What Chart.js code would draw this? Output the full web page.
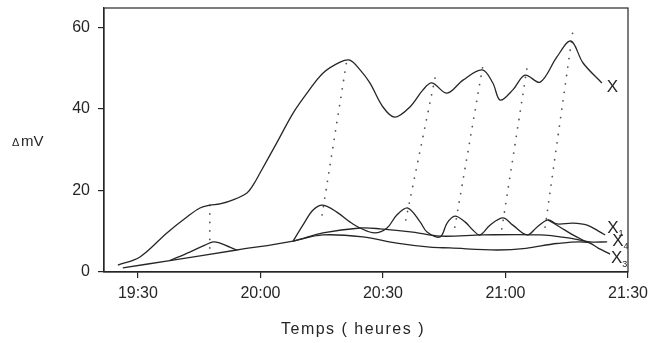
<!DOCTYPE html>
<html>
<head>
<meta charset="utf-8">
<script src="https://cdn.jsdelivr.net/npm/chart.js@4.4.0/dist/chart.umd.min.js"></script>
<style>
  body { margin: 0; background: #fff; }
</style>
</head>
<body>
<canvas id="graph" width="665" height="343"></canvas>
<script>
// temps en minutes depuis 19:00
const xTicks = [30, 60, 90, 120, 150];
const xTickLabels = ["19:30", "20:00", "20:30", "21:00", "21:30"];
const yTicks = [0, 20, 40, 60];

// courbe X (signal total)
const xTimes = [25.1, 30.5, 37.1, 42.0, 45.2, 47.6, 50.1, 53.3, 56.7, 58.2, 59.9, 64.0, 68.0, 71.4, 75.3, 79.5, 81.9,
  84.4, 86.8, 90.0, 92.9, 96.6, 99.8, 102.0, 105.7, 109.6, 114.3, 116.9, 118.7, 121.8, 124.8, 128.5, 132.6, 136.0, 139.0, 143.6];
const xValues = [1.7, 3.7, 9.6, 13.5, 15.7, 16.4, 16.7, 17.7, 19.4, 21.3, 24.3, 31.7, 39.0, 43.9, 48.8, 51.5, 52.0,
  49.6, 46.4, 40.5, 38.0, 40.5, 44.7, 46.4, 43.9, 47.1, 49.6, 46.4, 42.2, 44.7, 48.3, 46.6, 52.8, 56.7, 51.3, 46.4];

// courbe X1 (pics), null = coupure
const x1Times = [37.8, 42.7, 46.4, 48.4, 50.1, 52.5, 54.2, 60, 68.0, 70.4, 72.9, 75.3, 78.7, 81.9, 84.4, 88.0, 91.0,
  93.4, 96.1, 99.1, 100.8, 104.0, 105.7, 107.6, 110.1, 112.0, 113.8, 116.2, 119.4, 121.8, 125.3, 127.7, 130.4,
  132.6, 136.5, 140.0, 143.2, 144.4];
const x1Values = [2.8, 4.9, 6.6, 7.4, 7.1, 6.1, 5.4, null, 7.6, 11.5, 15.2, 16.4, 14.7, 12.3, 10.8, 9.6, 10.8,
  14.0, 15.7, 12.3, 9.8, 8.6, 12.0, 13.7, 12.3, 10.3, 9.1, 11.5, 13.3, 11.5, 9.1, 11.0, 12.8,
  11.8, 12.0, 11.5, 9.8, 9.1];
// descente du dernier pic
const x1FallTimes = [130.4, 133.4, 136.5, 140.0];
const x1FallValues = [12.8, 11.0, 9.1, 7.3];

// courbe X4 (ligne de base haute)
const x4Times = [26.3, 37.8, 54.2, 68.0, 75.3, 84.4, 89.3, 97.3, 104.0, 114.5, 128.5, 135.8, 140.7, 144.9];
const x4Values = [1.0, 2.8, 5.4, 7.6, 9.6, 10.8, 10.6, 9.8, 8.8, 9.1, 9.1, 8.3, 7.4, 7.4];

// courbe X3 (ligne de base basse)
const x3Times = [68.0, 75.3, 85.1, 93.4, 101.5, 106.4, 117.9, 125.0, 132.6, 140.0, 142.8, 145.6];
const x3Values = [7.6, 9.1, 8.6, 7.1, 6.1, 5.9, 5.4, 5.8, 7.0, 7.3, 5.8, 4.4];

// pointillés reliant les pics
const dotLowTimes = [47.6, 75.1, 95.6, 107.6, 119.1, 129.7];
const dotLowValues = [5.9, 14.0, 12.8, 11.0, 10.6, 11.0];
const dotHighTimes = [47.6, 81.2, 103.0, 114.7, 125.5, 136.5];
const dotHighValues = [18.2, 52.3, 48.8, 52.0, 51.5, 59.1];

const ink = "#262626";
const police = "'Liberation Sans', Arial, sans-serif";

function points(ts, vs) {
  return ts.map((t, i) => ({ x: t, y: vs[i] }));
}

const datasets = [
  { data: points(xTimes, xValues), nom: "X", sub: "", dx: 5, dy: 4 },
  { data: points(x1Times, x1Values), nom: "X", sub: "1", dx: 2, dy: -7 },
  { data: points(x1FallTimes, x1FallValues) },
  { data: points(x4Times, x4Values), nom: "X", sub: "4", dx: 5, dy: -1 },
  { data: points(x3Times, x3Values), nom: "X", sub: "3", dx: 1, dy: 4 }
];

dotLowTimes.forEach((t, i) => {
  datasets.push({
    data: [{ x: t, y: dotLowValues[i] }, { x: dotHighTimes[i], y: dotHighValues[i] }],
    borderDash: [0.01, 8.5],
    borderCapStyle: "round",
    borderWidth: 1.8,
    borderColor: "#555",
    tension: 0
  });
});

// cadre + textes
const habillage = {
  id: "habillage",
  afterDatasetsDraw(chart) {
    const { ctx, chartArea: a, scales } = chart;
    ctx.save();
    ctx.strokeStyle = ink;
    ctx.lineWidth = 1.2;
    ctx.strokeRect(a.left, a.top, a.right - a.left, a.bottom - a.top);

    ctx.fillStyle = ink;
    ctx.textBaseline = "middle";
    chart.data.datasets.forEach(ds => {
      if (!ds.nom) return;
      const last = ds.data[ds.data.length - 1];
      const px = scales.x.getPixelForValue(last.x) + ds.dx;
      const py = scales.y.getPixelForValue(last.y) + ds.dy;
      ctx.font = "17px " + police;
      ctx.textAlign = "left";
      ctx.fillText(ds.nom, px, py);
      if (ds.sub) {
        const w = ctx.measureText(ds.nom).width;
        ctx.font = "9px " + police;
        ctx.fillText(ds.sub, px + w, py + 6);
      }
    });

    // titre axe y
    ctx.font = "11px " + police;
    ctx.fillText("\u0394", 12, 143);
    ctx.font = "15px " + police;
    ctx.fillText("mV", 21, 142);

    // titre axe x
    ctx.font = "16px " + police;
    ctx.textAlign = "center";
    ctx.letterSpacing = "1.5px";
    ctx.fillText("Temps ( heures )", 353, 330);
    ctx.restore();
  }
};

function sansMarge(s) {
  s.paddingTop = 0;
  s.paddingBottom = 0;
  s.paddingLeft = 0;
  s.paddingRight = 0;
}

new Chart(document.getElementById("graph"), {
  type: "line",
  data: { datasets },
  options: {
    responsive: false,
    animation: false,
    layout: { padding: { left: 0, right: 37, top: 8, bottom: 0 } },
    plugins: { legend: { display: false }, tooltip: { enabled: false } },
    elements: {
      point: { radius: 0 },
      line: { borderWidth: 1.3, borderColor: ink, tension: 0.35 }
    },
    scales: {
      x: {
        type: "linear",
        min: 21.7,
        max: 150,
        afterBuildTicks: s => { s.ticks = xTicks.map(v => ({ value: v })); },
        afterFit: s => { s.height = 71; sansMarge(s); },
        grid: { drawOnChartArea: false, tickLength: 6, color: ink, lineWidth: 1.2 },
        border: { color: ink, width: 1.2 },
        ticks: {
          padding: 6,
          maxRotation: 0,
          color: ink,
          font: { family: police, size: 16 },
          callback: v => xTickLabels[xTicks.indexOf(v)]
        }
      },
      y: {
        min: 0,
        max: 64.8,
        afterBuildTicks: s => { s.ticks = yTicks.map(v => ({ value: v })); },
        afterFit: s => { s.width = 104; sansMarge(s); },
        grid: { drawOnChartArea: false, tickLength: 6, color: ink, lineWidth: 1.2 },
        border: { color: ink, width: 1.2 },
        ticks: {
          padding: 8,
          color: ink,
          font: { family: police, size: 16 }
        }
      }
    }
  },
  plugins: [habillage]
});
</script>
</body>
</html>
